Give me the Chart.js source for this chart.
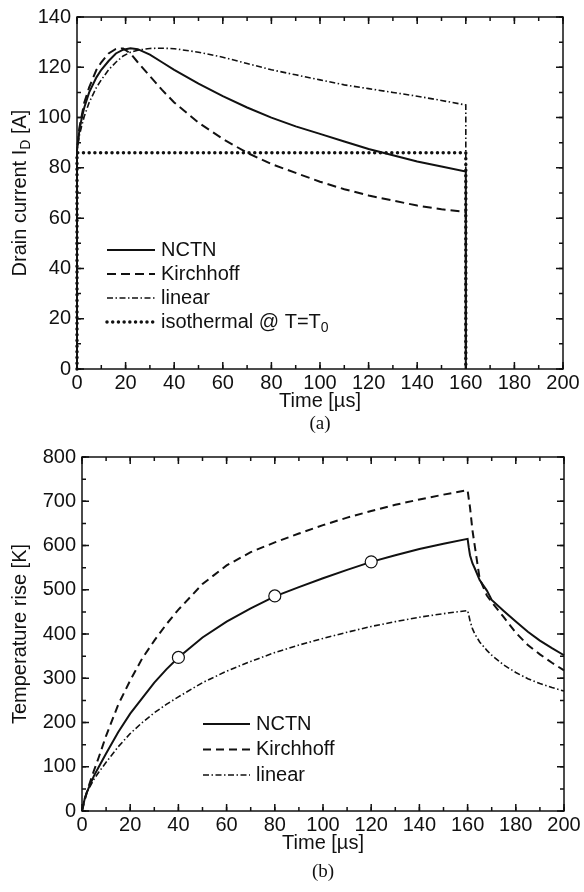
<!DOCTYPE html>
<html>
<head>
<meta charset="utf-8">
<script src="https://cdn.jsdelivr.net/npm/chart.js@4.4.1/dist/chart.umd.min.js"></script>
<style>
  body { margin: 0; background: #fff; }
  #wrap { position: relative; width: 584px; height: 892px; }
  canvas { position: absolute; left: 0; }
  .cap { position: absolute; width: 60px; text-align: center; font-family: 'Liberation Serif', serif; font-size: 19px; color: #111; }
</style>
</head>
<body>
<div id="wrap">
  <canvas id="chartA" width="584" height="440" style="top:0"></canvas>
  <canvas id="chartB" width="584" height="452" style="top:440px"></canvas>
  <div class="cap" style="left:290px; top:412px">(a)</div>
  <div class="cap" style="left:293px; top:860px">(b)</div>
</div>
<script>
/* (a) drain current */
const timeA = [0, 0, 1, 2, 3, 5, 8, 10, 13, 16, 19, 22, 25, 30, 35, 40, 50, 60, 70, 80, 90, 100, 110, 120, 130, 140, 150, 160, 160]
const nctnA = [0, 87, 95, 100, 104, 110, 116, 119, 122.5, 125.5, 127, 127.6, 127.2, 125, 122, 119, 113.5, 108.5, 104, 100, 96.5, 93.5, 90.5, 87.5, 85, 82.5, 80.5, 78.5, 0]
const kirchA = [0, 87, 96, 101, 106, 112, 119, 122, 125.5, 127.3, 127.5, 125.5, 122, 116.5, 111, 106, 98, 91.5, 86, 81.5, 78, 74.5, 71.5, 69, 67, 65, 63.5, 62.5, 0]
const linearA = [0, 87, 93, 97, 100.5, 106, 112, 115, 119, 122, 124.5, 126, 126.8, 127.5, 127.6, 127.4, 126, 124, 121.5, 119, 117, 115, 113, 111.5, 110, 108.5, 106.8, 105, 0]
const isoTimeA = [0, 0, 160, 160]
const isoA = [0, 86, 86, 0]

/* (b) temperature rise */
const timeB = [0, 1, 2, 3, 5, 7, 10, 15, 20, 25, 30, 35, 40, 50, 60, 70, 80, 90, 100, 110, 120, 130, 140, 150, 160, 160.5, 161, 162, 163, 165, 168, 170, 175, 180, 185, 190, 195, 200]
const nctnB = [0, 25, 42, 55, 80, 100, 130, 178, 220, 255, 290, 320, 347, 392, 428, 458, 485, 506, 526, 545, 563, 578, 592, 604, 615, 595, 578, 560, 548, 522, 498, 477, 452, 428, 405, 385, 368, 352]
const kirchB = [0, 22, 42, 60, 92, 122, 170, 240, 295, 345, 385, 422, 455, 513, 555, 585, 607, 627, 646, 663, 678, 692, 704, 715, 725, 705, 686, 635, 598, 525, 487, 472, 438, 403, 375, 354, 335, 318]
const linearB = [0, 28, 42, 52, 72, 88, 110, 145, 175, 200, 222, 241, 258, 290, 316, 338, 358, 375, 390, 404, 417, 428, 438, 446, 453, 442, 430, 412, 400, 382, 363, 352, 330, 313, 299, 288, 279, 271]
const markT = [40, 80, 120]
const markB = [347, 486, 563]

const black = '#111'
const sans = "'Liberation Sans', Arial, sans-serif"

const series = (t, v) => t.map((x, i) => ({ x, y: v[i] }))

const lineStyle = (label, data, extra) => Object.assign({
	label,
	data,
	borderColor: black,
	borderWidth: 2,
	pointRadius: 0,
	tension: 0,
	fill: false,
	clip: 6
}, extra)

// draws text pieces, second element true means subscript
const drawRich = (ctx, parts, x, y, size) => {
	let cx = x
	parts.forEach(([txt, sub]) => {
		ctx.font = `${sub ? size * 0.7 : size}px ${sans}`
		ctx.fillText(txt, cx, sub ? y + size * 0.3 : y)
		cx += ctx.measureText(txt).width
	})
	return cx - x
}
const richWidth = (ctx, parts, size) => parts.reduce((w, [txt, sub]) => {
	ctx.font = `${sub ? size * 0.7 : size}px ${sans}`
	return w + ctx.measureText(txt).width
}, 0)

const frameTicks = {
	id: 'frameTicks',
	afterDraw(chart, args, opts) {
		const { ctx, chartArea: a, scales: { x, y } } = chart
		ctx.save()
		ctx.strokeStyle = black
		ctx.lineWidth = 1.5
		ctx.strokeRect(a.left, a.top, a.right - a.left, a.bottom - a.top)
		const tick = (scale, step, len, horiz) => {
			for (let v = scale.min; v <= scale.max + 1e-9; v += step) {
				const p = scale.getPixelForValue(v)
				ctx.beginPath()
				if (horiz) {
					ctx.moveTo(p, a.bottom); ctx.lineTo(p, a.bottom - len)
					ctx.moveTo(p, a.top); ctx.lineTo(p, a.top + len)
				} else {
					ctx.moveTo(a.left, p); ctx.lineTo(a.left + len, p)
					ctx.moveTo(a.right, p); ctx.lineTo(a.right - len, p)
				}
				ctx.stroke()
			}
		}
		tick(x, opts.xMinor, 4, true)
		tick(x, opts.xMajor, 7, true)
		tick(y, opts.yMinor, 4, false)
		tick(y, opts.yMajor, 7, false)
		ctx.restore()
	}
}

const innerLegend = {
	id: 'innerLegend',
	afterDatasetsDraw(chart, args, opts) {
		const { ctx } = chart
		ctx.save()
		ctx.textBaseline = 'middle'
		ctx.fillStyle = black
		ctx.strokeStyle = black
		opts.items.forEach((item, row) => {
			const ds = chart.data.datasets[item.index]
			const y = opts.y + row * opts.gap
			ctx.beginPath()
			ctx.lineWidth = ds.borderWidth
			ctx.setLineDash(ds.borderDash || [])
			ctx.lineCap = ds.borderCapStyle || 'butt'
			ctx.moveTo(opts.x, y)
			ctx.lineTo(opts.x + opts.len, y)
			ctx.stroke()
			ctx.setLineDash([])
			drawRich(ctx, item.parts, opts.x + opts.len + 6, y, 20)
		})
		ctx.restore()
	}
}

const yTitle = {
	id: 'yTitle',
	afterDraw(chart, args, opts) {
		const { ctx, chartArea: a } = chart
		ctx.save()
		ctx.translate(opts.x, (a.top + a.bottom) / 2)
		ctx.rotate(-Math.PI / 2)
		ctx.fillStyle = black
		ctx.textBaseline = 'middle'
		const w = richWidth(ctx, opts.parts, 20)
		drawRich(ctx, opts.parts, -w / 2, 0, 20)
		ctx.restore()
	}
}

const xScale = (h) => ({
	type: 'linear',
	min: 0,
	max: 200,
	afterFit: (s) => { s.height = h },
	grid: { display: false, drawTicks: false },
	border: { display: false },
	ticks: { stepSize: 20, padding: 3, color: black, maxRotation: 0, autoSkip: false, font: { family: sans, size: 20, lineHeight: 1.1 } },
	title: { display: true, text: 'Time [µs]', color: black, padding: 0, font: { family: sans, size: 20 } }
})
const yScale = (w, max, step) => ({
	type: 'linear',
	min: 0,
	max,
	afterFit: (s) => { s.width = w },
	grid: { display: false, drawTicks: false },
	border: { display: false },
	ticks: { stepSize: step, padding: 6, color: black, autoSkip: false, font: { family: sans, size: 20, lineHeight: 1.1 } }
})

const dashDot = [6, 2.5, 1.5, 2.5]

new Chart('chartA', {
	type: 'line',
	data: {
		datasets: [
			lineStyle('NCTN', series(timeA, nctnA), { borderWidth: 2 }),
			lineStyle('Kirchhoff', series(timeA, kirchA), { borderDash: [9, 5] }),
			lineStyle('linear', series(timeA, linearA), { borderDash: dashDot, borderWidth: 1.6 }),
			lineStyle('isothermal @ T=T0', series(isoTimeA, isoA), { borderDash: [0.01, 5.7], borderCapStyle: 'round', borderWidth: 3.5 })
		]
	},
	options: {
		responsive: false,
		animation: false,
		devicePixelRatio: 1,
		layout: { padding: { left: 0, right: 21, top: 12, bottom: 27 } },
		plugins: {
			legend: { display: false },
			tooltip: { enabled: false },
			frameTicks: { xMajor: 20, xMinor: 10, yMajor: 20, yMinor: 10 },
			innerLegend: {
				x: 107, y: 250, gap: 24, len: 48,
				items: [
					{ index: 0, parts: [['NCTN']] },
					{ index: 1, parts: [['Kirchhoff']] },
					{ index: 2, parts: [['linear']] },
					{ index: 3, parts: [['isothermal @ T=T'], ['0', true]] }
				]
			},
			yTitle: { x: 20, parts: [['Drain current I'], ['D', true], [' [A]']] }
		},
		scales: { x: xScale(44), y: yScale(77, 140, 20) }
	},
	plugins: [frameTicks, innerLegend, yTitle]
})

new Chart('chartB', {
	type: 'line',
	data: {
		datasets: [
			lineStyle('markers', series(markT, markB), { showLine: false, pointRadius: 6, pointBackgroundColor: '#fff', pointBorderColor: black, pointBorderWidth: 1.2 }),
			lineStyle('NCTN', series(timeB, nctnB), { borderWidth: 2 }),
			lineStyle('Kirchhoff', series(timeB, kirchB), { borderDash: [8, 5] }),
			lineStyle('linear', series(timeB, linearB), { borderDash: dashDot, borderWidth: 1.6 })
		]
	},
	options: {
		responsive: false,
		animation: false,
		devicePixelRatio: 1,
		layout: { padding: { left: 0, right: 20, top: 16, bottom: 37 } },
		plugins: {
			legend: { display: false },
			tooltip: { enabled: false },
			frameTicks: { xMajor: 20, xMinor: 10, yMajor: 100, yMinor: 50 },
			innerLegend: {
				x: 203, y: 284, gap: 25.5, len: 47,
				items: [
					{ index: 1, parts: [['NCTN']] },
					{ index: 2, parts: [['Kirchhoff']] },
					{ index: 3, parts: [['linear']] }
				]
			},
			yTitle: { x: 20, parts: [['Temperature rise [K]']] }
		},
		scales: { x: xScale(44), y: yScale(82, 800, 100) }
	},
	plugins: [frameTicks, innerLegend, yTitle]
})
</script>
</body>
</html>
